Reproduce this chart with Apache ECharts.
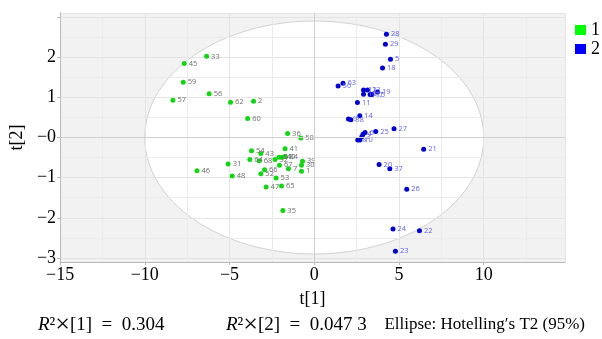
<!DOCTYPE html>
<html>
<head>
<meta charset="utf-8">
<script src="https://cdn.jsdelivr.net/npm/echarts@6/dist/echarts.min.js"></script>
<style>
  html, body { margin: 0; padding: 0; background: #fff; }
  #chart { width: 602px; height: 339px; }
</style>
</head>
<body>
<div id="chart"></div>
<script>
// 组1 (绿色)
var group1Ids = ['33','45','59','56','57','62','2','60','36','58','54','43','41','64','68','32','51','40','34','67','39','30','7','1','66','52','53','31','46','48','47','65','35'];
var group1T1 = [-6.35,-7.67,-7.73,-6.20,-8.34,-4.94,-3.58,-3.93,-1.57,-0.79,-3.70,-3.15,-1.72,-3.80,-3.25,-2.31,-2.07,-1.89,-1.72,-2.05,-0.69,-0.75,-1.52,-0.75,-2.93,-3.15,-2.25,-5.08,-6.92,-4.84,-2.84,-1.93,-1.85];
var group1T2 = [2.02,1.84,1.375,1.09,0.93,0.88,0.90,0.47,0.10,-0.01,-0.33,-0.40,-0.28,-0.55,-0.58,-0.55,-0.49,-0.49,-0.47,-0.69,-0.59,-0.69,-0.78,-0.84,-0.80,-0.90,-1.01,-0.66,-0.83,-0.96,-1.23,-1.21,-1.82];

// 组2 (蓝色)
var group2Ids = ['28','29','5','18','63','50','12','13','16','17','15','19','11','14','9','38','6','25','27','4','3','10','8','21','20','37','26','24','22','23'];
var group2T1 = [4.26,4.20,4.50,4.03,1.70,1.41,2.91,3.14,2.91,3.30,3.41,3.73,2.55,2.69,2.02,2.16,3.00,3.63,4.71,2.88,2.81,2.69,2.57,6.46,3.83,4.46,5.46,4.65,6.21,4.79];
var group2T2 = [2.57,2.32,1.95,1.73,1.35,1.28,1.18,1.18,1.08,1.07,1.07,1.13,0.87,0.54,0.46,0.44,0.125,0.15,0.22,0.08,0.02,-0.06,-0.06,-0.29,-0.675,-0.78,-1.29,-2.28,-2.32,-2.83];

// Hotelling T2 椭圆: 中心, 半轴
var ellipseCenter = [0, 0];
var ellipseRadii = [10, 2.9];

var xRange = [-15, 14.8];
var yRange = [-3.1, 3.1];

// 底部说明
var r2Values = ['0.304', '0.047 3'];
var ellipseNote = 'Ellipse: Hotelling\u2032s T2 (95%)';

var serif = '"Liberation Serif", "Times New Roman", serif';

function toPoints(ids, xs, ys) {
  var out = [];
  for (var i = 0; i < ids.length; i++) {
    out.push({ name: ids[i], value: [xs[i], ys[i]] });
  }
  return out;
}

function fmtNum(v) {
  if (v < 0) return '\u2212' + Math.abs(v);
  return '' + v;
}

var noteRich = {
  i: { fontFamily: serif, fontSize: 19, fontStyle: 'italic', fill: '#000' },
  s: { fontFamily: serif, fontSize: 19, fill: '#000' },
  x: { fontFamily: serif, fontSize: 26, fill: '#000' },
  n: { fontFamily: serif, fontSize: 19, fill: '#000' }
};

function r2Text(k) {
  return '{i|R}{s|\u00b2}{x|\u00d7}{n|[' + (k + 1) + ']\u2002=\u2002' + r2Values[k] + '}';
}

var chart = echarts.init(document.getElementById('chart'));

var option = {
  backgroundColor: '#fff',
  animation: false,
  grid: { left: 59, right: 37, top: 13, bottom: 77 },
  legend: {
    orient: 'vertical',
    left: 570,
    top: 16,
    itemWidth: 11,
    itemHeight: 10,
    itemGap: 1,
    icon: 'rect',
    textStyle: { fontFamily: serif, fontSize: 18, color: '#000', lineHeight: 12 },
    data: [
      { name: '1', itemStyle: { color: '#00ff00', opacity: 1 } },
      { name: '2', itemStyle: { color: '#0000ff', opacity: 1 } }
    ]
  },
  xAxis: {
    type: 'value',
    min: xRange[0],
    max: xRange[1],
    interval: 5,
    name: 't[1]',
    nameLocation: 'middle',
    nameGap: 28,
    nameTextStyle: { fontFamily: serif, fontSize: 18, color: '#000' },
    axisLine: { onZero: false, lineStyle: { color: '#b8b8b8' } },
    axisTick: { show: true, length: 3, lineStyle: { color: '#b8b8b8' } },
    axisLabel: {
      fontFamily: serif, fontSize: 18, color: '#000', margin: 4,
      showMaxLabel: false,
      formatter: fmtNum
    },
    splitLine: { show: true, lineStyle: { color: '#e4e4e4' } },
    minorTick: { show: false, splitNumber: 2 },
    minorSplitLine: { show: true, lineStyle: { color: '#ebebeb' } }
  },
  yAxis: {
    type: 'value',
    min: yRange[0],
    max: yRange[1],
    name: 't[2]',
    nameLocation: 'middle',
    nameGap: 31,
    nameTextStyle: { fontFamily: serif, fontSize: 18, color: '#000' },
    axisLine: { show: true, onZero: false, lineStyle: { color: '#b8b8b8' } },
    axisTick: { show: true, length: 3, lineStyle: { color: '#b8b8b8' } },
    axisLabel: {
      fontFamily: serif, fontSize: 18, color: '#000', margin: 4,
      showMinLabel: false, showMaxLabel: false,
      formatter: function (v) {
        if (v === 0) return '\u22120';
        if (v >= 3) return '';
        return fmtNum(v);
      }
    },
    splitLine: { show: true, lineStyle: { color: '#e4e4e4' } },
    minorTick: { show: false, splitNumber: 2 },
    minorSplitLine: { show: true, lineStyle: { color: '#ebebeb' } }
  },
  graphic: [
    { type: 'text', left: 38, top: 312, style: { text: r2Text(0), rich: noteRich } },
    { type: 'text', left: 226, top: 312, style: { text: r2Text(1), rich: noteRich } },
    { type: 'text', right: 17, top: 316, style: { text: ellipseNote, fontFamily: serif, fontSize: 17, fill: '#000' } }
  ],
  series: [
    {
      type: 'custom',
      z: -1,
      silent: true,
      data: [[ellipseCenter[0], ellipseCenter[1], ellipseRadii[0], ellipseRadii[1]]],
      renderItem: function (params, api) {
        var c = api.coord([api.value(0), api.value(1)]);
        var s = api.size([api.value(2), api.value(3)]);
        var cs = params.coordSys;
        return {
          type: 'group',
          children: [
            { type: 'rect', shape: { x: cs.x, y: cs.y, width: cs.width, height: cs.height }, style: { fill: '#f2f2f2' } },
            { type: 'ellipse', shape: { cx: c[0], cy: c[1], rx: s[0], ry: s[1] }, style: { fill: '#fff', stroke: '#d2d2d2', lineWidth: 1 } }
          ]
        };
      }
    },
    {
      name: '1',
      type: 'scatter',
      symbolSize: 5,
      itemStyle: { color: '#11d611', opacity: 1 },
      label: {
        show: true, position: 'right', distance: 2,
        formatter: '{b}', fontSize: 7.5, color: '#6e6e6e', fontFamily: 'Open Sans'
      },
      data: toPoints(group1Ids, group1T1, group1T2),
      markLine: {
        silent: true,
        symbol: 'none',
        label: { show: false },
        lineStyle: { color: '#cfcfcf', type: 'solid', width: 1 },
        data: [{ xAxis: 0 }, { yAxis: 0 }]
      }
    },
    {
      name: '2',
      type: 'scatter',
      symbolSize: 5,
      itemStyle: { color: '#0000d0', opacity: 1 },
      label: {
        show: true, position: 'right', distance: 2,
        formatter: '{b}', fontSize: 7.5, color: '#6262f0', fontFamily: 'Open Sans'
      },
      data: toPoints(group2Ids, group2T1, group2T2)
    }
  ]
};

chart.setOption(option);
</script>
</body>
</html>
